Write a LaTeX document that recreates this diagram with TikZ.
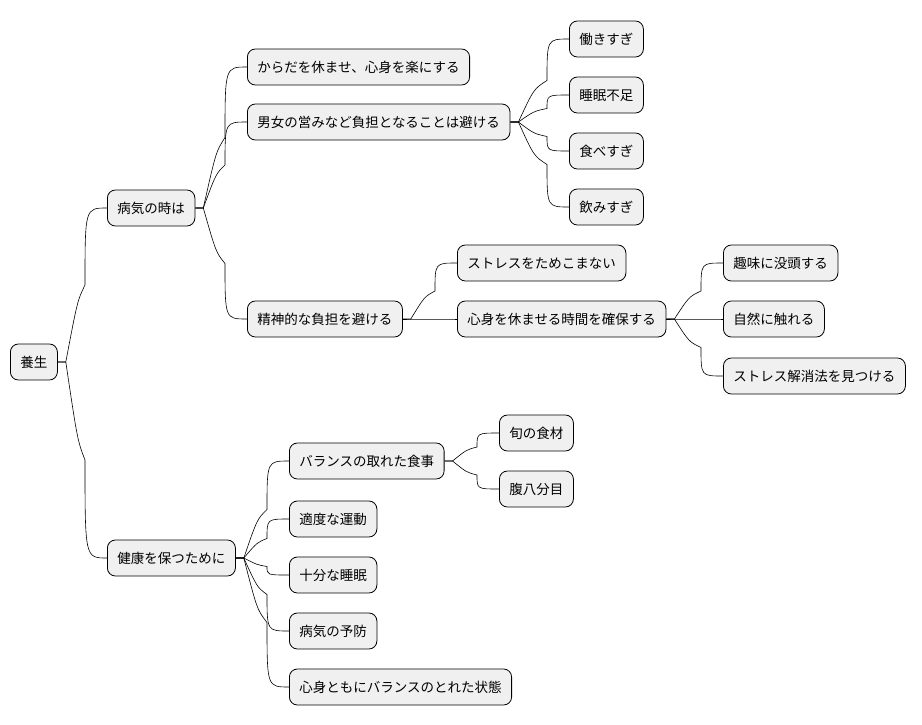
\documentclass[tikz,border=0pt]{standalone}
\usepackage{fontspec}
\setmainfont{Noto Sans CJK JP}
\usetikzlibrary{calc}
\begin{document}
\begin{tikzpicture}[x=1pt,y=-1pt,
  n/.style={draw=black,fill=black!6,rounded corners=8pt,minimum height=36pt,inner xsep=10pt,anchor=west,font=\fontsize{13.5}{15}\selectfont,line width=0.8pt},
  c/.style={line width=0.6pt}]
\useasboundingbox (0,0) rectangle (922,724);
\node[n] (r) at (10,362) {養生};
\node[n] (a) at (107,208) {病気の時は};
\node[n] (b) at (107,558) {健康を保つために};
\node[n] (a1) at (247,67) {からだを休ませ、心身を楽にする};
\node[n] (a2) at (247,122) {男女の営みなど負担となることは避ける};
\node[n] (a3) at (247,319) {精神的な負担を避ける};
\node[n] (a21) at (569,39) {働きすぎ};
\node[n] (a22) at (569,95) {睡眠不足};
\node[n] (a23) at (569,151) {食べすぎ};
\node[n] (a24) at (569,207) {飲みすぎ};
\node[n] (a31) at (457,263) {ストレスをためこまない};
\node[n] (a32) at (457,319) {心身を休ませる時間を確保する};
\node[n] (a321) at (723,263) {趣味に没頭する};
\node[n] (a322) at (723,319) {自然に触れる};
\node[n] (a323) at (723,376) {ストレス解消法を見つける};
\node[n] (b1) at (289,461) {バランスの取れた食事};
\node[n] (b11) at (499,433) {旬の食材};
\node[n] (b12) at (499,489) {腹八分目};
\node[n] (b2) at (289,519) {適度な運動};
\node[n] (b3) at (289,575) {十分な睡眠};
\node[n] (b4) at (289,631) {病気の予防};
\node[n] (b5) at (289,687) {心身ともにバランスのとれた状態};
\foreach \p/\ch in {r/a,r/b,a/a1,a/a2,a/a3,a2/a21,a2/a22,a2/a23,a2/a24,a3/a31,a3/a32,a32/a321,a32/a322,a32/a323,b/b1,b1/b11,b1/b12,b/b2,b/b3,b/b4,b/b5}
  \draw[c] (\p.east) -- ++(8,0) .. controls ($(\ch.west)!0.6!(\p.east)$) .. ([xshift=-22pt]\ch.west |- {$(\p.east)!0.5!(\ch.west)$})
     .. controls ([xshift=-22pt]\ch.west) .. (\ch.west);
\end{tikzpicture}
\end{document}
